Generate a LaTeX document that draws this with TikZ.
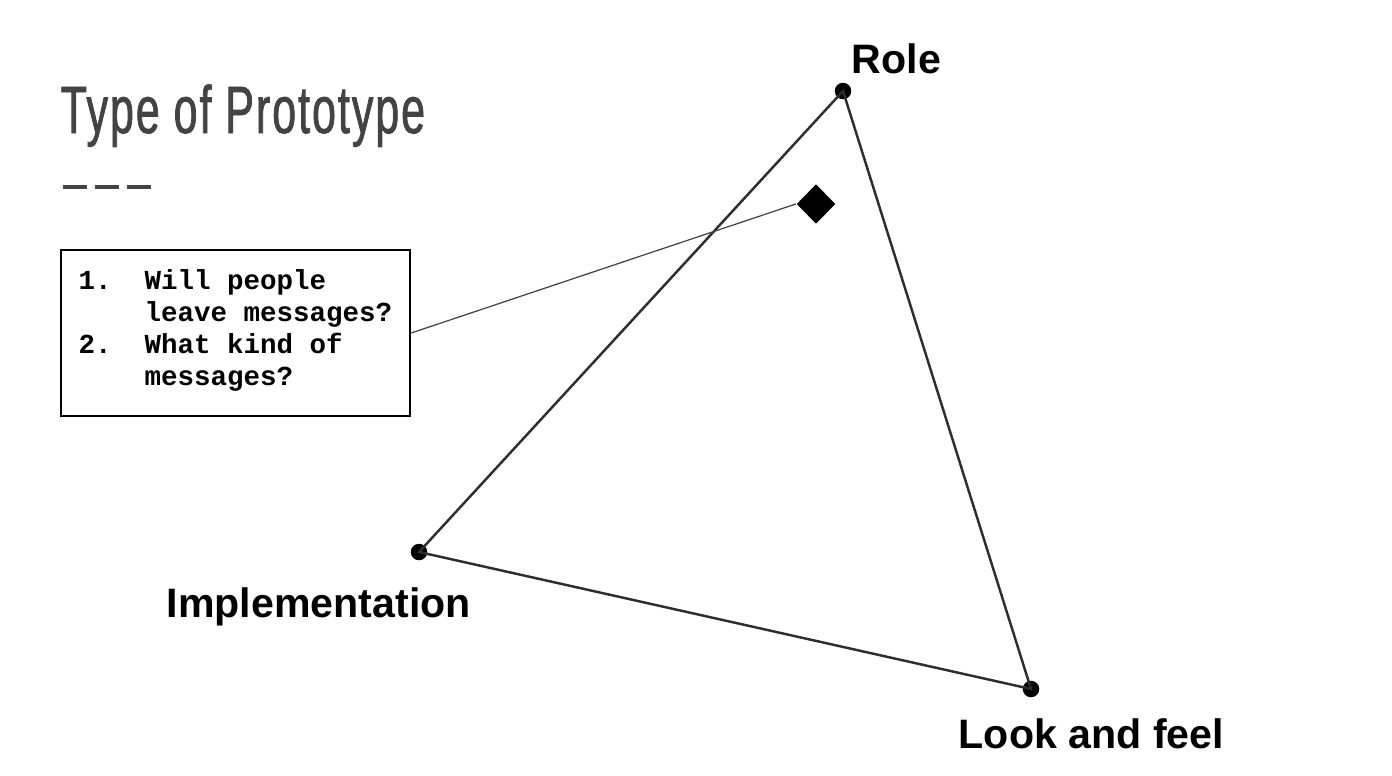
\documentclass[tikz,border=0pt]{standalone}
\usepackage{fontspec}
\setmainfont{Liberation Sans}
\setmonofont{Liberation Mono}
\newfontfamily\titlefont[FakeStretch=0.64,FakeBold=1.1,LetterSpace=3]{Liberation Sans}
\usetikzlibrary{arrows,shapes.geometric,positioning}
\definecolor{slidegray}{HTML}{434343}
\definecolor{edgegray}{HTML}{2E2E2E}
\tikzset{
	vtx_dot/.style = {circle, fill=black, inner sep=0pt, minimum size=0.165cm},% triangle corner
	vtx_lbl/.style = {inner sep=0pt, font=\fontsize{11.7}{14}\selectfont\bfseries},% corner name
	tri_edge/.style = {draw=edgegray, line width=0.7pt},
	q_box/.style = {rectangle, draw=black, line width=0.6pt, inner sep=0pt,
		minimum width=3.49cm, minimum height=1.66cm},% question box
	q_text/.style = {inner sep=0pt, font=\ttfamily\bfseries\fontsize{7.82}{9.1}\selectfont},
	q_mark/.style = {diamond, fill=black, inner sep=0pt, minimum width=0.39cm,
		minimum height=0.40cm},% position of the prototype
	q_link/.style = {draw=slidegray, line width=0.35pt}
}
\begin{document}
\begin{tikzpicture}[x=0.01cm,y=-0.01cm]
\useasboundingbox (0,0) rectangle (1392,775);
% title
\node [anchor=base west, inner sep=0pt, text=slidegray,
	font=\titlefont\fontsize{19.06}{22}\selectfont] (title) at (60,133) {Type of Prototype};
\draw [slidegray, line width=1pt, dash pattern=on 0.24cm off 0.08cm] (63,187) -- (151,187);
% triangle
\node [vtx_dot] (role) at (843,91) {};
\node [vtx_dot] (impl) at (419,552) {};
\node [vtx_dot] (look) at (1031,689) {};
\draw [tri_edge] (role.center) -- (impl.center) -- (look.center) -- cycle;
\node [vtx_lbl, anchor=base west] (role_lbl) at (851,73) {Role};
\node [vtx_lbl, anchor=base west] (impl_lbl) at (166,617) {Implementation};
\node [vtx_lbl, anchor=base west] (look_lbl) at (958,748) {Look and feel};
% questions
\node [q_box] (qs) at (235.5,333) {};
\node [q_text, anchor=base west] (q_list) at (78,289) {\begin{tabular}[t]{@{}l@{\hspace{1.2em}}l@{}}
	1. & Will people\\
	   & leave messages?\\
	2. & What kind of\\
	   & messages?
	\end{tabular}};
\node [q_mark] (mark) at (816,204) {};
\draw [q_link] (qs.east) -- (mark.west);
\end{tikzpicture}
\end{document}
